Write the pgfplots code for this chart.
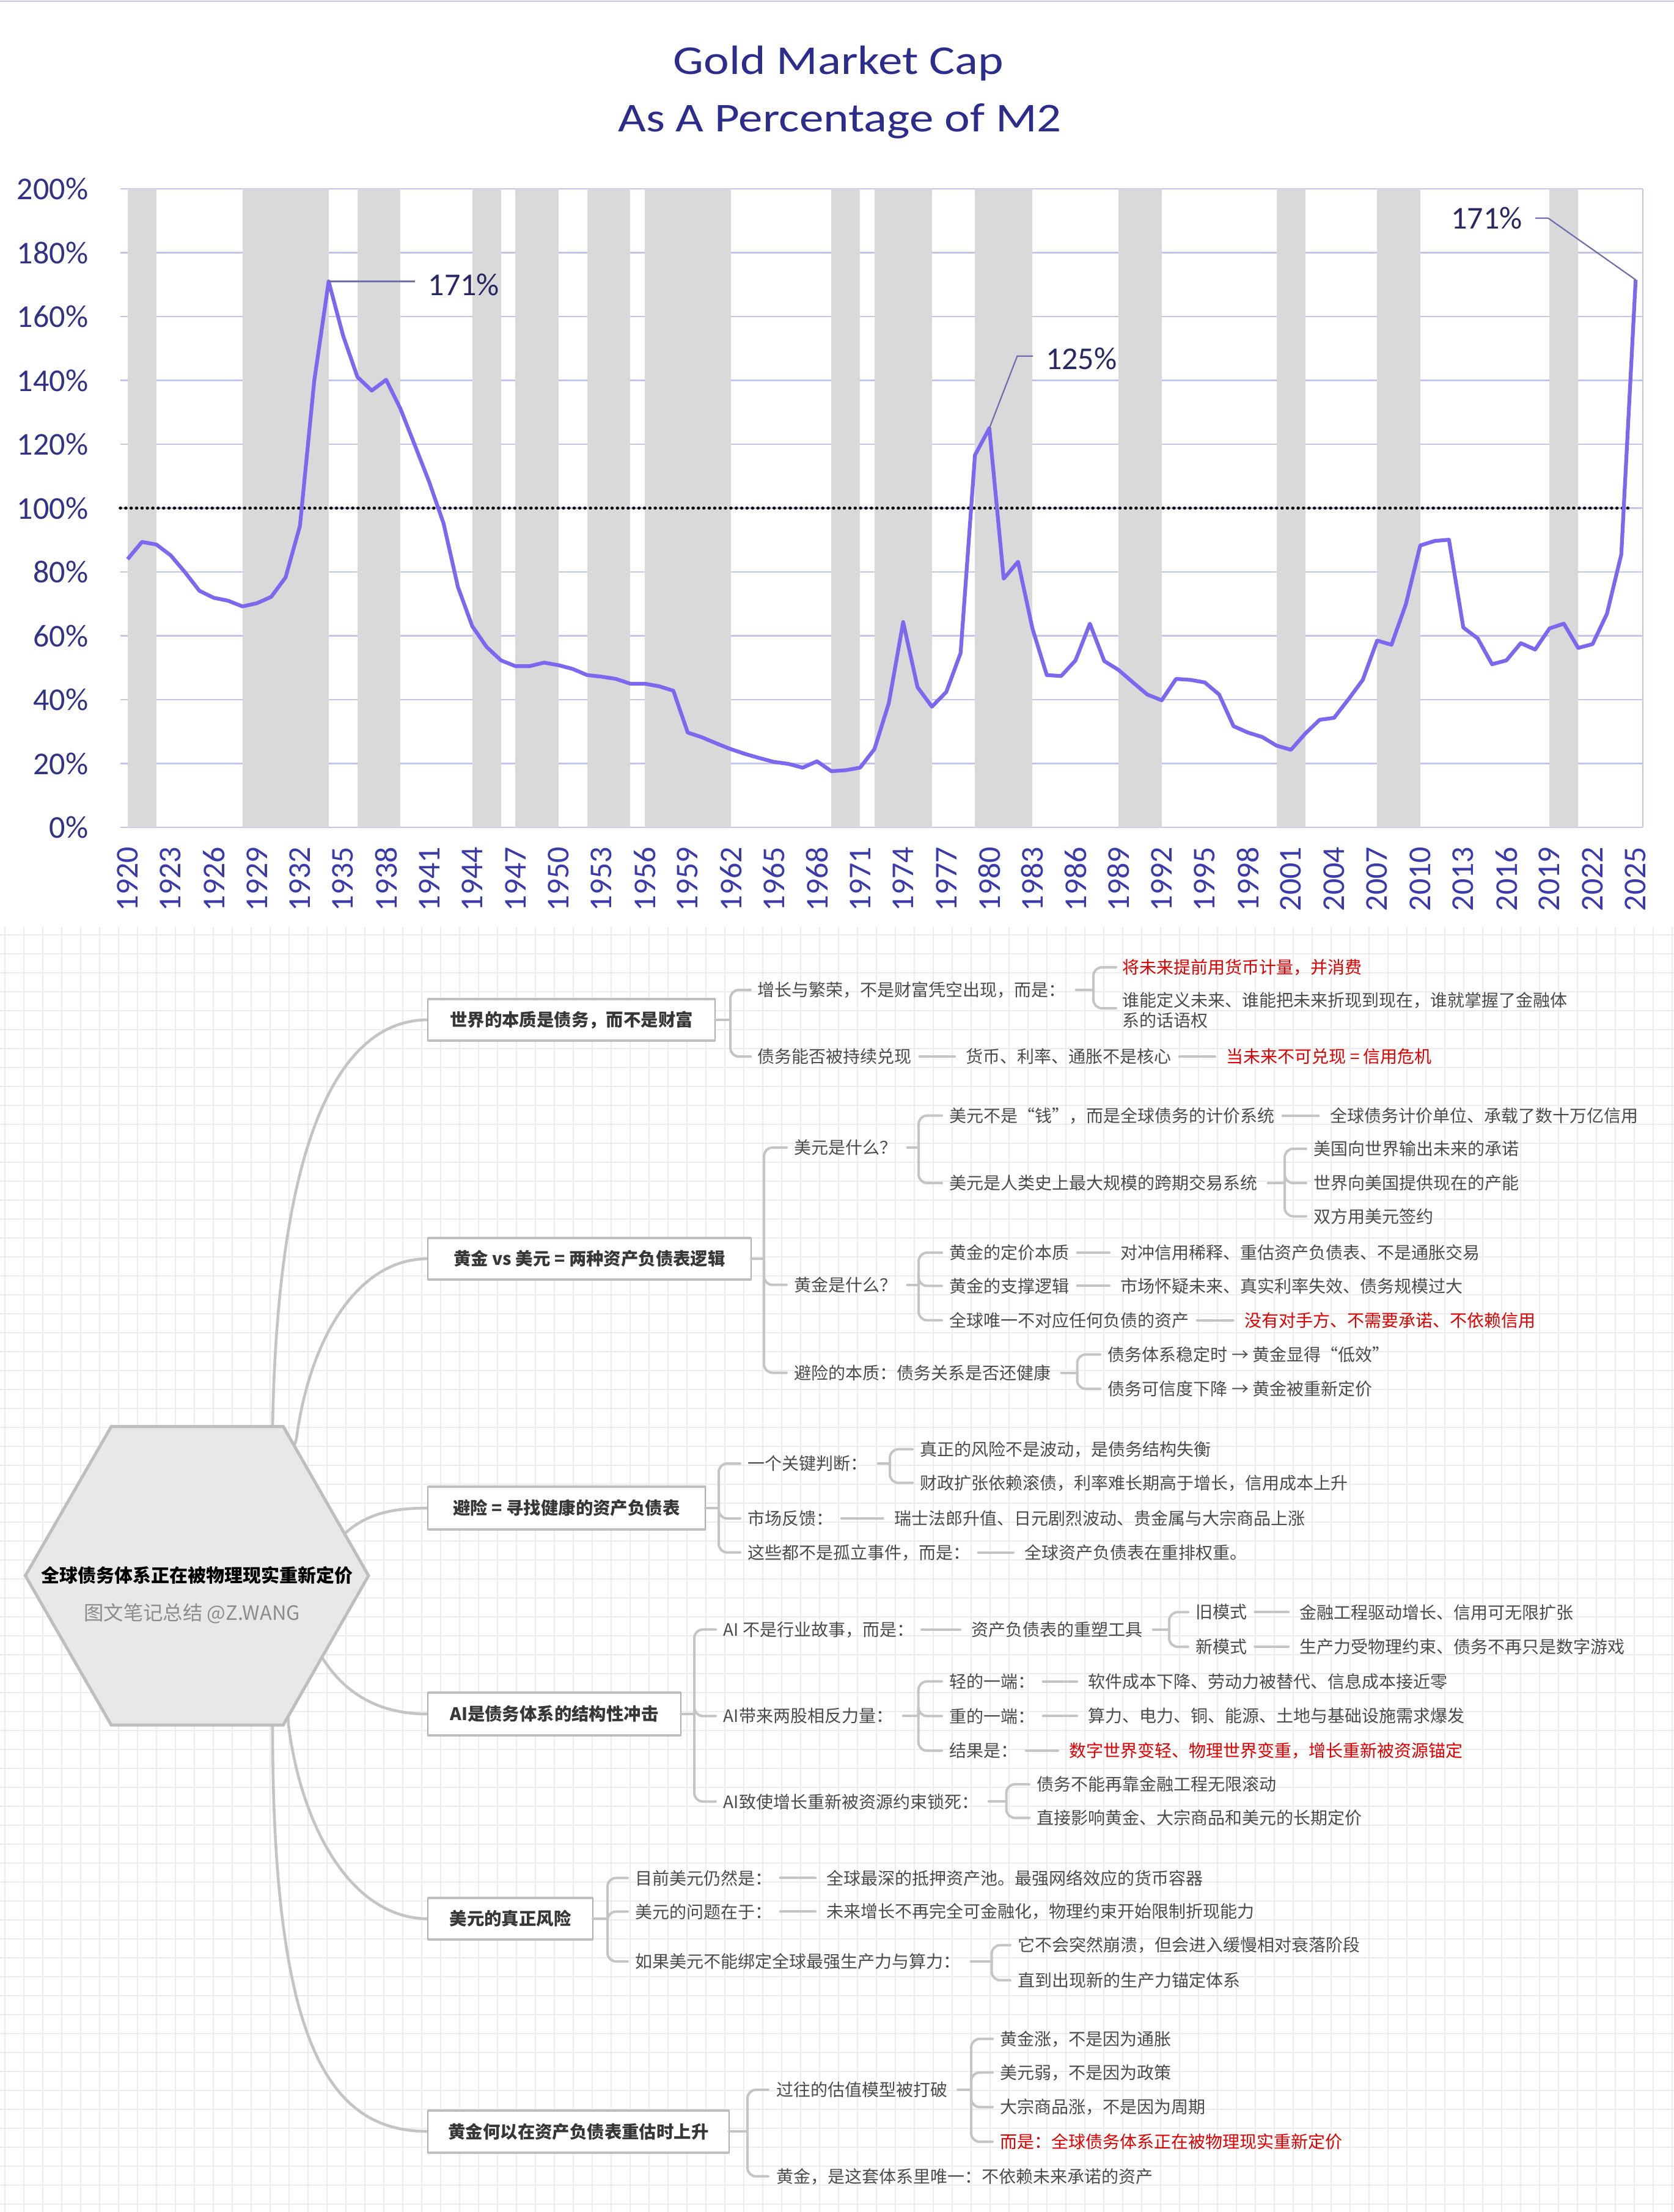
\documentclass[border=0pt]{standalone}
\usepackage{pgfplots}
\pgfplotsset{compat=1.18}
\usepackage{pgfplotstable}
\usepackage{fontspec}
\setmainfont{Carlito}
\newfontfamily\chartfont{Carlito}
\newfontfamily\titlefont[FakeStretch=1.18]{Carlito}
\newfontfamily\cjk{Noto Sans CJK SC}

\definecolor{titleblue}{RGB}{44,44,140}
\definecolor{ytickc}{RGB}{50,50,135}
\definecolor{xtickc}{RGB}{58,58,170}
\definecolor{gridc}{RGB}{196,196,236}
\definecolor{bandc}{RGB}{217,217,217}
\definecolor{linec}{RGB}{123,104,238}
\definecolor{annc}{RGB}{40,40,100}
\definecolor{leadc}{RGB}{110,110,170}
\definecolor{mmgrid}{RGB}{236,236,236}
\definecolor{connc}{RGB}{196,196,196}
\definecolor{txt}{RGB}{75,75,75}
\definecolor{l1txt}{RGB}{55,55,55}
\definecolor{redc}{RGB}{222,0,0}
\definecolor{hexfill}{RGB}{232,232,232}
\definecolor{hexline}{RGB}{190,190,190}
\definecolor{subc}{RGB}{140,140,140}
\definecolor{boxthin}{RGB}{175,175,175}
\definecolor{boxthick}{RGB}{190,190,190}

\pgfplotstableread{
year val
1920 84
1921 89.4
1922 88.6
1923 85.2
1924 79.9
1925 74.1
1926 71.9
1927 71.0
1928 69.2
1929 70.2
1930 72.2
1931 78.3
1932 94.4
1933 140
1934 171
1935 154.1
1936 141.1
1937 136.8
1938 140.2
1939 131.1
1940 119.7
1941 108.2
1942 95.2
1943 75.3
1944 63.0
1945 56.5
1946 52.3
1947 50.5
1948 50.5
1949 51.6
1950 50.8
1951 49.6
1952 47.7
1953 47.2
1954 46.5
1955 45.0
1956 45.0
1957 44.2
1958 42.8
1959 29.7
1960 28.2
1961 26.3
1962 24.5
1963 23.0
1964 21.7
1965 20.5
1966 19.9
1967 18.7
1968 20.7
1969 17.6
1970 17.9
1971 18.7
1972 24.5
1973 38.9
1974 64.3
1975 43.9
1976 37.8
1977 42.4
1978 54.6
1979 116.6
1980 125
1981 77.9
1982 83.2
1983 62.3
1984 47.7
1985 47.4
1986 52.3
1987 63.8
1988 52.1
1989 49.3
1990 45.4
1991 41.6
1992 39.8
1993 46.5
1994 46.2
1995 45.4
1996 41.6
1997 31.7
1998 29.7
1999 28.3
2000 25.6
2001 24.3
2002 29.4
2003 33.7
2004 34.3
2005 40.1
2006 46.2
2007 58.5
2008 57.2
2009 69.9
2010 88.3
2011 89.7
2012 90.1
2013 62.6
2014 59.2
2015 51.1
2016 52.3
2017 57.7
2018 55.7
2019 62.3
2020 63.8
2021 56.2
2022 57.4
2023 66.9
2024 85.5
2025 171.5
}\goldtable

\tikzset{
  conn/.style={draw=connc, line width=1pt, line cap=round},
  mm/.style={anchor=west, inner sep=0pt, font=\cjk\fontsize{7}{8.4}\selectfont, text=txt},
}
\newcommand{\T}[4][txt]{\node[mm, text=#1] (#2) at (#3) {#4};}
\newcommand{\D}[2]{\draw[conn] ([xshift=3pt]#1.east) -- ([xshift=-4.5pt]#2.west);}
\newcommand{\B}[5]{%
  \draw[conn] (#1,#2) -- (#3,#2);
  \foreach \cy in {#5}{\draw[conn, rounded corners=3.5pt] (#3,#2) |- (#4,\cy);}
}
\newcommand{\BN}[5]{%
  \draw[conn] ([xshift=4pt]#1.east) -- (#3,#2);
  \foreach \cy in {#5}{\draw[conn, rounded corners=3.5pt] (#3,#2) |- (#4,\cy);}
}
\newcommand{\Lbox}[5]{%
  \draw[fill=white, draw=boxthin, line width=0.4pt] (#1,#2) rectangle (#3,#4);
  \draw[boxthick, line width=1.1pt] (#1,#2) -- (#3,#2);
  \draw[boxthick, line width=1.1pt] (#1,#4) -- (#3,#4);
  \node[font=\cjk\bfseries\fontsize{7.1}{8.5}\selectfont, text=l1txt, inner sep=0pt] at ({(#1+#3)/2},{(#2+#4)/2}) {#5};
}

\begin{document}
\begin{tikzpicture}
\path[use as bounding box, fill=white] (0pt,0pt) rectangle (684.75pt,-905pt);

\begin{scope}[x=0.25pt, y=-0.25pt]
  \draw[gridc, line width=0.5pt] (0,1.5) -- (2739,1.5);
  % mind map grid
  \foreach \i in {0,...,88} {\draw[mmgrid, line width=0.45pt] (\i*31+8, 1517) -- (\i*31+8, 3620);}
  \foreach \j in {0,...,68} {\draw[mmgrid, line width=0.45pt] (0, 1530+\j*31) -- (2739, 1530+\j*31);}
  % title
  \node[font=\titlefont\fontsize{16.75}{20}\selectfont, text=titleblue, anchor=base] at (1372,121) {Gold Market Cap};
  \node[font=\titlefont\fontsize{16.75}{20}\selectfont, text=titleblue, anchor=base] at (1374,215) {As A Percentage of M2};
\end{scope}

\begin{axis}[
  at={(49.25pt,-338.5pt)}, anchor=south west,
  scale only axis, width=622.75pt, height=261.25pt,
  xmin=1919.5, xmax=2025.5, ymin=0, ymax=200,
  axis line style={draw=none},
  ytick={0,20,...,200}, xtick={1920,1923,...,2025},
  ymajorgrids, grid style={draw=gridc, line width=0.6pt},
  major tick length=0pt,
  yticklabel={\pgfmathprintnumber{\tick}\%},
  /pgf/number format/assume math mode=true,
  /pgf/number format/1000 sep={},
  yticklabel style={font=\chartfont\fontsize{13}{15}\selectfont, text=ytickc, anchor=east, inner sep=0pt, xshift=-13pt},
  xticklabel style={font=\chartfont\fontsize{13}{15}\selectfont, text=xtickc, yshift=-7.75pt, rotate=90, anchor=east, inner sep=0pt},
  clip=false,
]
  \addplot[fill=bandc, draw=none] coordinates {(1920,200) (1922,200)} \closedcycle;
  \addplot[fill=bandc, draw=none] coordinates {(1928,200) (1934,200)} \closedcycle;
  \addplot[fill=bandc, draw=none] coordinates {(1936,200) (1939,200)} \closedcycle;
  \addplot[fill=bandc, draw=none] coordinates {(1944,200) (1946,200)} \closedcycle;
  \addplot[fill=bandc, draw=none] coordinates {(1947,200) (1950,200)} \closedcycle;
  \addplot[fill=bandc, draw=none] coordinates {(1952,200) (1955,200)} \closedcycle;
  \addplot[fill=bandc, draw=none] coordinates {(1956,200) (1962,200)} \closedcycle;
  \addplot[fill=bandc, draw=none] coordinates {(1969,200) (1971,200)} \closedcycle;
  \addplot[fill=bandc, draw=none] coordinates {(1972,200) (1976,200)} \closedcycle;
  \addplot[fill=bandc, draw=none] coordinates {(1979,200) (1983,200)} \closedcycle;
  \addplot[fill=bandc, draw=none] coordinates {(1989,200) (1992,200)} \closedcycle;
  \addplot[fill=bandc, draw=none] coordinates {(2000,200) (2002,200)} \closedcycle;
  \addplot[fill=bandc, draw=none] coordinates {(2007,200) (2010,200)} \closedcycle;
  \addplot[fill=bandc, draw=none] coordinates {(2019,200) (2021,200)} \closedcycle;
  \draw[gridc, line width=0.6pt] (axis cs:2025.5,0) -- (axis cs:2025.5,200);
  \addplot[black, line width=1.4pt, dash pattern=on 0.01pt off 2.2pt, line cap=round] coordinates {(1919.5,100) (2024.6,100)};
  \addplot[linec, line width=1.55pt, line join=round] table[x=year, y=val] {\goldtable};
  % annotations
  \draw[leadc, line width=0.55pt] (axis cs:1934,171) -- (axis cs:1940,171);
  \node[anchor=west, font=\chartfont\fontsize{13}{15}\selectfont, text=annc, inner sep=0pt] at (axis cs:1940.9,170) {171\%};
  \draw[leadc, line width=0.55pt] (axis cs:1980,125) -- (axis cs:1981.94,147.6) -- (axis cs:1983.04,147.6);
  \node[anchor=west, font=\chartfont\fontsize{13}{15}\selectfont, text=annc, inner sep=0pt] at (axis cs:1983.9,146.8) {125\%};
  \draw[leadc, line width=0.55pt] (axis cs:2018.02,190.8) -- (axis cs:2018.91,190.8) -- (axis cs:2025,171.5);
  \node[anchor=east, font=\chartfont\fontsize{13}{15}\selectfont, text=annc, inner sep=0pt] at (axis cs:2017.13,190.8) {171\%};
\end{axis}

\begin{scope}[x=0.25pt, y=-0.25pt]
  % level-0 curves
  \draw[conn, line width=1.15pt] (446,2400) -- (446,2334) .. controls (455,1850) and (560,1669) .. (700,1669);
  \draw[conn, line width=1.15pt] (470,2400) -- (485,2355) .. controls (505,2200) and (580,2060) .. (700,2060);
  \draw[conn, line width=1.15pt] (540,2540) -- (566,2508) .. controls (600,2478) and (640,2468) .. (700,2468);
  \draw[conn, line width=1.15pt] (500,2680) -- (528,2714) .. controls (570,2780) and (630,2805) .. (700,2805);
  \draw[conn, line width=1.15pt] (470,2780) -- (472,2823) .. controls (495,3000) and (580,3140) .. (700,3140);
  \draw[conn, line width=1.15pt] (446,2780) -- (446,2823) .. controls (446,3350) and (540,3488) .. (700,3488);
  % hexagon
  \draw[hexline, fill=hexfill, line width=1.25pt] (182,2334.6) -- (463.5,2334.6) -- (603,2578.6) -- (463.5,2823) -- (182,2823) -- (41.5,2578.6) -- cycle;
  \node[font=\cjk\bfseries\fontsize{7.5}{9}\selectfont, text=black, inner sep=0pt] at (322,2578) {全球债务体系正在被物理现实重新定价};
  \node[font=\cjk\fontsize{8.1}{9.5}\selectfont, text=subc, inner sep=0pt] at (314,2641) {图文笔记总结 @Z.WANG};

  % ===== Section 1 =====
  \Lbox{700}{1635}{1170}{1703}{世界的本质是债务，而不是财富}
  \B{1170}{1669}{1195}{1228}{1620,1729}
  \T{a1}{1239,1620}{增长与繁荣，不是财富凭空出现，而是：}
  \BN{a1}{1620}{1789}{1826}{1583,1650}
  \T[redc]{a11}{1836,1583}{将未来提前用货币计量，并消费}
  \T{a12}{1836,1637}{谁能定义未来、谁能把未来折现到现在，谁就掌握了金融体}
  \T{a12b}{1836,1670}{系的话语权}
  \T{a2}{1239,1729}{债务能否被持续兑现}
  \T{a21}{1580,1729}{货币、利率、通胀不是核心}
  \T[redc]{a22}{2006,1729}{当未来不可兑现 = 信用危机}
  \D{a2}{a21}
  \D{a21}{a22}

  % ===== Section 2 =====
  \Lbox{700}{2026}{1229}{2094}{黄金 vs 美元 = 两种资产负债表逻辑}
  \B{1229}{2060}{1250}{1287}{1878,2102.7,2246.5}
  \T{b1}{1299,1878}{美元是什么？}
  \BN{b1}{1878}{1503}{1541}{1825.6,1936}
  \T{b11}{1553,1825.6}{美元不是“钱”，而是全球债务的计价系统}
  \T{b111}{2175.5,1825.6}{全球债务计价单位、承载了数十万亿信用}
  \D{b11}{b111}
  \T{b12}{1553,1936}{美元是人类史上最大规模的跨期交易系统}
  \BN{b12}{1936}{2102}{2137}{1880,1936,1990.5}
  \T{b121}{2149,1880}{美国向世界输出未来的承诺}
  \T{b122}{2149,1936}{世界向美国提供现在的产能}
  \T{b123}{2149,1990.5}{双方用美元签约}
  \T{b2}{1299,2102.7}{黄金是什么？}
  \BN{b2}{2102.7}{1503}{1541}{2050,2104.4,2160.6}
  \T{b21}{1553,2050}{黄金的定价本质}
  \T{b21x}{1833,2050}{对冲信用稀释、重估资产负债表、不是通胀交易}
  \D{b21}{b21x}
  \T{b22}{1553,2104.4}{黄金的支撑逻辑}
  \T{b22x}{1833,2104.4}{市场怀疑未来、真实利率失效、债务规模过大}
  \D{b22}{b22x}
  \T{b23}{1553,2160.6}{全球唯一不对应任何负债的资产}
  \T[redc]{b23x}{2035.6,2160.6}{没有对手方、不需要承诺、不依赖信用}
  \D{b23}{b23x}
  \T{b3}{1299,2246.5}{避险的本质：债务关系是否还健康}
  \BN{b3}{2246.5}{1762.5}{1800}{2216.7,2272.8}
  \T{b31}{1812,2216.7}{债务体系稳定时 → 黄金显得“低效”}
  \T{b32}{1812,2272.8}{债务可信度下降 → 黄金被重新定价}

  % ===== Section 3 =====
  \Lbox{700}{2433}{1154}{2503}{避险 = 寻找健康的资产负债表}
  \B{1154}{2468}{1176}{1211}{2395,2485,2540.7}
  \T{c1}{1223,2395}{一个关键判断：}
  \BN{c1}{2395}{1456}{1493}{2371.7,2426.7}
  \T{c11}{1505,2371.7}{真正的风险不是波动，是债务结构失衡}
  \T{c12}{1505,2426.7}{财政扩张依赖滚债，利率难长期高于增长，信用成本上升}
  \T{c2}{1223,2485}{市场反馈：}
  \T{c21}{1462.7,2485}{瑞士法郎升值、日元剧烈波动、贵金属与大宗商品上涨}
  \D{c2}{c21}
  \T{c3}{1223,2540.7}{这些都不是孤立事件，而是：}
  \T{c31}{1676,2540.7}{全球资产负债表在重排权重。}
  \D{c3}{c31}

  % ===== Section 4 =====
  \Lbox{700}{2770}{1114}{2840}{AI是债务体系的结构性冲击}
  \B{1114}{2805}{1136}{1171}{2666.7,2808.3,2948.3}
  \T{d1}{1183,2666.7}{AI 不是行业故事，而是：}
  \T{d1x}{1589,2666.7}{资产负债表的重塑工具}
  \D{d1}{d1x}
  \BN{d1x}{2666.7}{1913}{1944}{2638.3,2695}
  \T{d11}{1955.7,2638.3}{旧模式}
  \T{d11x}{2126,2638.3}{金融工程驱动增长、信用可无限扩张}
  \D{d11}{d11x}
  \T{d12}{1955.7,2695}{新模式}
  \T{d12x}{2126,2695}{生产力受物理约束、债务不再只是数字游戏}
  \D{d12}{d12x}
  \T{d2}{1183,2808.3}{AI带来两股相反力量：}
  \BN{d2}{2808.3}{1502.7}{1541}{2751.7,2808.3,2865}
  \T{d21}{1553,2751.7}{轻的一端：}
  \T{d21x}{1780,2751.7}{软件成本下降、劳动力被替代、信息成本接近零}
  \D{d21}{d21x}
  \T{d22}{1553,2808.3}{重的一端：}
  \T{d22x}{1780,2808.3}{算力、电力、铜、能源、土地与基础设施需求爆发}
  \D{d22}{d22x}
  \T{d23}{1553,2865}{结果是：}
  \T[redc]{d23x}{1749,2865}{数字世界变轻、物理世界变重，增长重新被资源锚定}
  \D{d23}{d23x}
  \T{d3}{1183,2948.3}{AI致使增长重新被资源约束锁死：}
  \BN{d3}{2948.3}{1646.6}{1684}{2920,2975}
  \T{d31}{1696,2920}{债务不能再靠金融工程无限滚动}
  \T{d32}{1696,2975}{直接影响黄金、大宗商品和美元的长期定价}

  % ===== Section 5 =====
  \Lbox{700}{3106}{970}{3174}{美元的真正风险}
  \B{970}{3140}{994}{1027}{3073.3,3128.3,3210}
  \T{e1}{1039,3073.3}{目前美元仍然是：}
  \T{e1x}{1352,3073.3}{全球最深的抵押资产池。最强网络效应的货币容器}
  \D{e1}{e1x}
  \T{e2}{1039,3128.3}{美元的问题在于：}
  \T{e2x}{1352,3128.3}{未来增长不再完全可金融化，物理约束开始限制折现能力}
  \D{e2}{e2x}
  \T{e3}{1039,3210}{如果美元不能绑定全球最强生产力与算力：}
  \BN{e3}{3210}{1622.6}{1653}{3183.3,3240.7}
  \T{e31}{1665,3183.3}{它不会突然崩溃，但会进入缓慢相对衰落阶段}
  \T{e32}{1665,3240.7}{直到出现新的生产力锚定体系}

  % ===== Section 6 =====
  \Lbox{700}{3454}{1193}{3523}{黄金何以在资产负债表重估时上升}
  \B{1193}{3488}{1223}{1257}{3420,3561.7}
  \T{f1}{1269.5,3420}{过往的估值模型被打破}
  \BN{f1}{3420}{1589}{1624}{3336.7,3391.7,3448.3,3505}
  \T{f11}{1636,3336.7}{黄金涨，不是因为通胀}
  \T{f12}{1636,3391.7}{美元弱，不是因为政策}
  \T{f13}{1636,3448.3}{大宗商品涨，不是因为周期}
  \T[redc]{f14}{1636,3505}{而是：全球债务体系正在被物理现实重新定价}
  \T{f2}{1269.5,3561.7}{黄金，是这套体系里唯一：不依赖未来承诺的资产}
\end{scope}
\end{tikzpicture}
\end{document}
